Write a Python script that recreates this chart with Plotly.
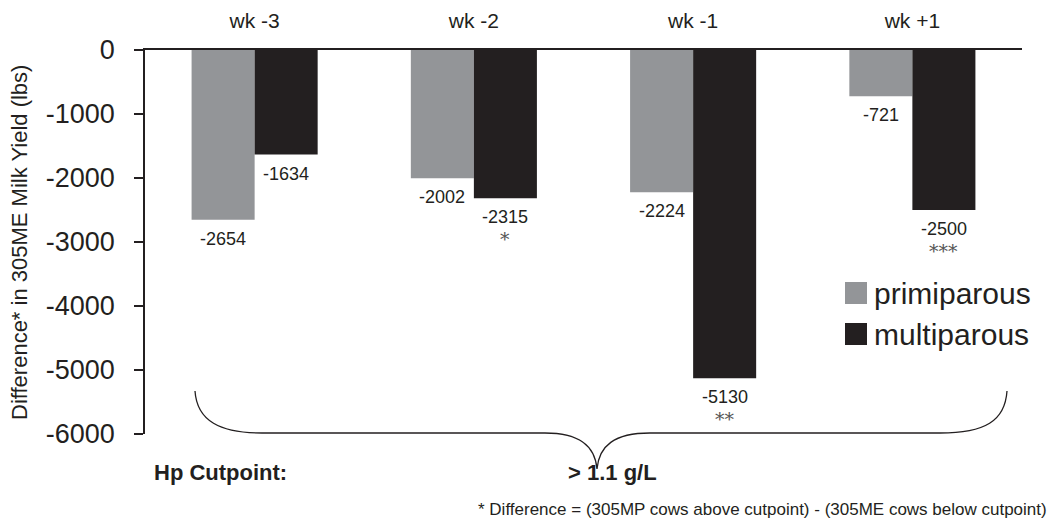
import plotly.graph_objects as go

categories = ["wk -3", "wk -2", "wk -1", "wk +1"]
primiparous = [-2654, -2002, -2224, -721]
multiparous = [-1634, -2315, -5130, -2500]
multi_sig = ["", "*", "**", "***"]
y_ticks = [0, -1000, -2000, -3000, -4000, -5000, -6000]
y_ticktext = [str(v) for v in y_ticks]

GRAY = "#939598"
BLACK = "#231f20"
FONT = "Liberation Sans, Arial, sans-serif"

# the page body has an 8px margin; lay out in page pixels and compensate
OFF = 8
W, H = 1055 - OFF, 523 - OFF
PL, PR, PT, PB = 145, 1022, 50, 434  # plot area in page pixels
L, T = PL - OFF, PT - OFF
R = W - (PR - OFF)
B = H - (PB - OFF)
PW, PH = PR - PL, PB - PT


def px(x):
    return (x - PL) / PW


def py(y):
    return (PB - y) / PH


fig = go.Figure()
fig.add_trace(go.Bar(x=categories, y=primiparous, name="primiparous",
                     marker=dict(color=GRAY, line=dict(width=0))))
fig.add_trace(go.Bar(x=categories, y=multiparous, name="multiparous",
                     marker=dict(color=BLACK, line=dict(width=0))))

ann = []
for c, v in zip(categories, primiparous):
    ann.append(dict(x=c, y=v, xref="x", yref="y", xshift=-31.5, yshift=-19,
                    text=str(v), showarrow=False, yanchor="middle",
                    font=dict(size=18, color=BLACK, family=FONT)))
for c, v, s in zip(categories, multiparous, multi_sig):
    ann.append(dict(x=c, y=v, xref="x", yref="y", xshift=31.5, yshift=-19,
                    text=str(v), showarrow=False, yanchor="middle",
                    font=dict(size=18, color=BLACK, family=FONT)))
    if s:
        ann.append(dict(x=c, y=v, xref="x", yref="y", xshift=31.5, yshift=-41,
                        text=s, showarrow=False, yanchor="middle",
                        font=dict(size=19, color="#555555", family="DejaVu Serif, serif")))

# manual legend
legend_items = [("primiparous", GRAY, 293), ("multiparous", BLACK, 334)]
shapes = []
for name, col, yc in legend_items:
    shapes.append(dict(type="rect", xref="paper", yref="paper",
                       x0=px(845), x1=px(867), y0=py(yc + 11), y1=py(yc - 11),
                       fillcolor=col, line=dict(width=0)))
    ann.append(dict(x=px(872), y=py(yc), xref="paper", yref="paper", text=name,
                    showarrow=False, xanchor="left", yanchor="middle",
                    font=dict(size=30, color=BLACK, family=FONT)))

# brace
pts = [
    ("M", [(195, 391)]),
    ("C", [(197, 421), (220, 433), (262, 433)]),
    ("L", [(545, 433)]),
    ("C", [(580, 433), (595, 446), (597, 469)]),
    ("C", [(599, 446), (614, 433), (650, 433)]),
    ("L", [(940, 433)]),
    ("C", [(985, 433), (1005, 421), (1007, 391)]),
]
path = ""
for cmd, ps in pts:
    path += cmd + " ".join(f"{px(a):.5f},{py(b):.5f}" for a, b in ps) + " "
shapes.append(dict(type="path", xref="paper", yref="paper", path=path.strip(),
                   line=dict(color=BLACK, width=1.3)))

ann.append(dict(x=px(152), y=py(472), xref="paper", yref="paper",
                text="<b>Hp Cutpoint:</b>", showarrow=False, xanchor="left",
                yanchor="middle", font=dict(size=22, color=BLACK, family=FONT)))
ann.append(dict(x=px(612), y=py(472), xref="paper", yref="paper",
                text="<b>&gt; 1.1 g/L</b>", showarrow=False, xanchor="center",
                yanchor="middle", font=dict(size=22, color=BLACK, family=FONT)))
ann.append(dict(x=px(1049), y=py(509), xref="paper", yref="paper",
                text="* Difference = (305MP cows above cutpoint) - (305ME cows below cutpoint)",
                showarrow=False, xanchor="right", yanchor="middle",
                font=dict(size=17, color=BLACK, family=FONT)))
ann.append(dict(x=px(19), y=py(243), xref="paper", yref="paper",
                text="Difference* in 305ME Milk Yield (lbs)", textangle=-90,
                showarrow=False, xanchor="center", yanchor="middle",
                font=dict(size=22, color=BLACK, family=FONT)))

fig.update_layout(
    template="none",
    width=W, height=H,
    margin=dict(l=L, r=R, t=T, b=B, pad=0, autoexpand=False),
    paper_bgcolor="white", plot_bgcolor="white",
    barmode="group", bargap=0.425, bargroupgap=0,
    showlegend=False,
    font=dict(family=FONT, color=BLACK),
    annotations=ann, shapes=shapes,
    xaxis=dict(side="top", showline=True, linecolor=BLACK, linewidth=1.5,
               ticks="", showgrid=False, zeroline=False, automargin=False,
               tickfont=dict(size=21, color=BLACK, family=FONT),
               ticklabelstandoff=12),
    yaxis=dict(range=[-6000, 0], tickvals=y_ticks, ticktext=y_ticktext,
               showline=True, linecolor=BLACK, automargin=False,
               linewidth=1.5, ticks="outside", ticklen=9, tickcolor=BLACK, tickwidth=1.5,
               showgrid=False, zeroline=False,
               tickfont=dict(size=27, color=BLACK, family=FONT),
               ticklabelstandoff=14),
)

fig.write_html("out.html")
